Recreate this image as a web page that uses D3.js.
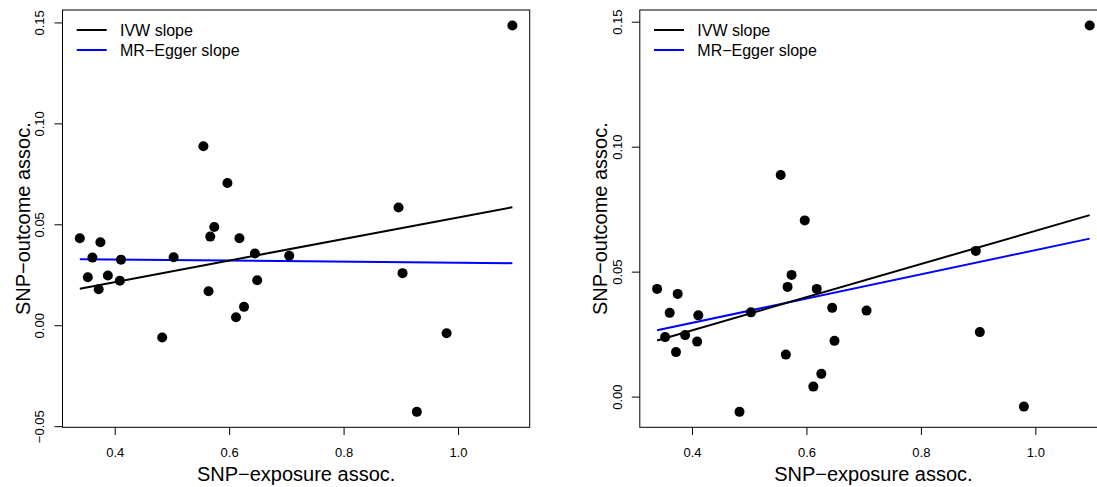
<!DOCTYPE html>
<html>
<head>
<meta charset="utf-8">
<script src="https://cdn.jsdelivr.net/npm/d3@7"></script>
<style>
  html, body { margin: 0; padding: 0; background: #fff; }
  svg { display: block; font-family: "Liberation Sans", Arial, Helvetica, sans-serif; }
</style>
</head>
<body>
<svg id="chart" width="1097" height="487"></svg>
<script>
// SNP associations with the exposure (x) and the outcome (y)
const exposureAll = [0.339, 0.353, 0.361, 0.372, 0.375, 0.388, 0.409, 0.411, 0.483, 0.503,
                     0.555, 0.564, 0.567, 0.574, 0.597, 0.612, 0.618, 0.626, 0.645, 0.649,
                     0.705, 0.896, 0.903, 0.928, 0.980, 1.095];
const outcomeAll  = [0.0431, 0.0238, 0.0335, 0.0178, 0.0411, 0.0246, 0.0220, 0.0325, -0.0061, 0.0337,
                     0.0887, 0.0168, 0.0439, 0.0487, 0.0705, 0.0040, 0.0431, 0.0091, 0.0355, 0.0223,
                     0.0344, 0.0583, 0.0258, -0.0429, -0.0040, 0.1485];
// second analysis leaves out the SNP at index 23
const excludedIndex = 23;

// fitted slopes: IVW (through origin) and MR-Egger (intercept + slope)
const ivwSlope     = [0.0534, 0.0663];
const eggerInter   = [0.0336, 0.0101];
const eggerSlope   = [-0.0026, 0.0485];

const xTicks = [0.4, 0.6, 0.8, 1.0];
const yTicks = [[-0.05, 0.00, 0.05, 0.10, 0.15], [0.00, 0.05, 0.10, 0.15]];
const legendLabels = ["IVW slope", "MR\u2212Egger slope"];
const legendColors = ["#000000", "#0000ff"];
const xTitle = "SNP\u2212exposure assoc.";
const yTitle = "SNP\u2212outcome assoc.";

const W = 467.2, H = 417.3; // plot box size
const boxTop = 10;
const panelLeft = [62.5, 639.8];
const tickFont = "13px", titleFont = 20, legendFont = 16;

const svg = d3.select("#chart");
svg.append("rect").attr("width", 1097).attr("height", 487).attr("fill", "#fff");

function padDomain(ext) {
  const r = ext[1] - ext[0];
  return [ext[0] - 0.04 * r, ext[1] + 0.04 * r];
}
const fmtY = v => (v < 0 ? "\u2212" : "") + d3.format(".2f")(Math.abs(v));
const fmtX = d3.format(".1f");

function drawPanel(p) {
  const idx = d3.range(exposureAll.length).filter(i => p === 0 || i !== excludedIndex);
  const xs = idx.map(i => exposureAll[i]);
  const ys = idx.map(i => outcomeAll[i]);

  const x = d3.scaleLinear().domain(padDomain(d3.extent(xs))).range([0, W]);
  const y = d3.scaleLinear().domain(padDomain(d3.extent(ys))).range([H, 0]);

  const g = svg.append("g").attr("transform", `translate(${panelLeft[p]},${boxTop})`);

  // regression lines across the observed exposure range
  const xr = d3.extent(xs);
  const line = d3.line().x(d => x(d[0])).y(d => y(d[1]));
  g.append("path")
    .attr("d", line(xr.map(v => [v, eggerInter[p] + eggerSlope[p] * v])))
    .attr("stroke", legendColors[1]).attr("stroke-width", 2).attr("fill", "none");
  g.append("path")
    .attr("d", line(xr.map(v => [v, ivwSlope[p] * v])))
    .attr("stroke", legendColors[0]).attr("stroke-width", 2).attr("fill", "none");

  // points
  g.selectAll("circle.pt").data(idx).enter().append("circle")
    .attr("class", "pt")
    .attr("cx", i => x(exposureAll[i]))
    .attr("cy", i => y(outcomeAll[i]))
    .attr("r", 5)
    .attr("fill", "#000");

  // x axis
  const ax = g.append("g").attr("transform", `translate(0,${H})`)
    .call(d3.axisBottom(x).tickValues(xTicks).tickSize(7.7).tickFormat(fmtX));
  ax.select(".domain").remove();
  ax.selectAll(".tick line").attr("stroke", "#000").attr("stroke-width", 1);
  ax.selectAll(".tick text")
    .attr("y", 30).attr("dy", 0)
    .attr("fill", "#000")
    .style("font-size", tickFont)
    .style("font-family", "Liberation Sans, Arial, sans-serif");

  // y axis
  const ay = g.append("g")
    .call(d3.axisLeft(y).tickValues(yTicks[p]).tickSize(8).tickFormat(fmtY));
  ay.select(".domain").remove();
  ay.selectAll(".tick line").attr("stroke", "#000").attr("stroke-width", 1);
  ay.selectAll(".tick text")
    .attr("x", null).attr("dy", 0)
    .attr("text-anchor", "middle")
    .attr("transform", "translate(-18.2,0) rotate(-90)")
    .attr("fill", "#000")
    .style("font-size", tickFont)
    .style("font-family", "Liberation Sans, Arial, sans-serif");

  // box
  g.append("rect").attr("width", W).attr("height", H)
    .attr("fill", "none").attr("stroke", "#000").attr("stroke-width", 1);

  // axis titles
  g.append("text")
    .attr("transform", `translate(${W / 2},${481 - boxTop})`)
    .attr("text-anchor", "middle").attr("font-size", titleFont).attr("fill", "#000")
    .text(xTitle);
  g.append("text")
    .attr("transform", `translate(${29.5 - 62.5},${H / 2}) rotate(-90)`)
    .attr("text-anchor", "middle").attr("font-size", titleFont).attr("fill", "#000")
    .text(yTitle);

  // legend
  const lg = g.append("g");
  legendLabels.forEach((lab, k) => {
    const ly = 20 + 20 * k;
    lg.append("line")
      .attr("x1", 14.2).attr("x2", 44.2).attr("y1", ly).attr("y2", ly)
      .attr("stroke", legendColors[k]).attr("stroke-width", 2);
    lg.append("text")
      .attr("x", 57.5).attr("y", ly)
      .attr("dy", "0.35em").attr("font-size", legendFont).attr("fill", "#000")
      .text(lab);
  });
}

drawPanel(0);
drawPanel(1);
</script>
</body>
</html>
